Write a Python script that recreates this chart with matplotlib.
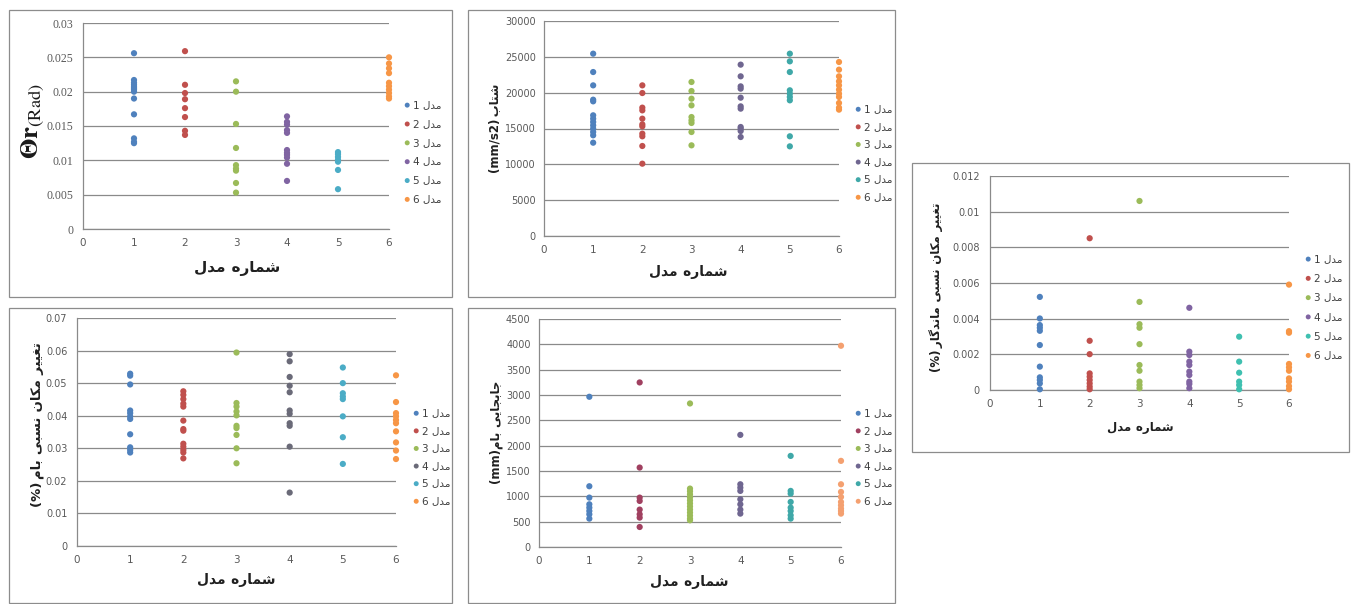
import re
import matplotlib
matplotlib.use("Agg")
import matplotlib.pyplot as plt
from matplotlib.patches import Rectangle

# ---------------- data ----------------
models = [1, 2, 3, 4, 5, 6]
series_names = ["مدل 1", "مدل 2", "مدل 3", "مدل 4", "مدل 5", "مدل 6"]

theta_r = [
    [0.0256, 0.0217, 0.0213, 0.0210, 0.0207, 0.0205, 0.0203, 0.0200, 0.0190, 0.0167, 0.0132, 0.0127, 0.0125],
    [0.0259, 0.0210, 0.0198, 0.0189, 0.0176, 0.0163, 0.0143, 0.0137],
    [0.0215, 0.0200, 0.0153, 0.0118, 0.0093, 0.0088, 0.0085, 0.0067, 0.0053],
    [0.0164, 0.0156, 0.0152, 0.0144, 0.0140, 0.0115, 0.0111, 0.0108, 0.0104, 0.0095, 0.0070],
    [0.0112, 0.0109, 0.0105, 0.0101, 0.0098, 0.0086, 0.0058],
    [0.0250, 0.0241, 0.0234, 0.0227, 0.0213, 0.0208, 0.0203, 0.0198, 0.0193, 0.0190],
]
accel = [
    [25440, 22880, 21020, 19020, 18790, 16840, 16370, 15910, 15440, 14980, 14510, 14050, 13020],
    [21020, 19950, 17910, 17530, 16370, 15580, 15300, 14280, 13910, 12560, 10090],
    [21490, 20230, 19160, 18230, 16600, 16140, 15770, 14510, 12650],
    [23910, 22280, 20880, 20560, 19300, 18090, 17770, 15210, 14980, 14650, 13810],
    [25440, 24370, 22880, 20330, 19860, 19400, 18930, 13910, 12510],
    [24280, 23210, 22280, 21580, 21020, 20420, 19860, 19400, 18560, 17910, 17630],
]
residual_drift = [
    [0.00522, 0.00401, 0.00364, 0.00349, 0.00332, 0.00252, 0.00131, 0.00071, 0.00056, 0.00037, 0.00004],
    [0.00851, 0.00276, 0.00201, 0.00093, 0.00075, 0.00056, 0.00037, 0.00019, 0.00004],
    [0.01060, 0.00494, 0.00369, 0.00349, 0.00257, 0.00140, 0.00108, 0.00047, 0.00028, 0.00010],
    [0.00461, 0.00215, 0.00196, 0.00159, 0.00140, 0.00103, 0.00084, 0.00047, 0.00034, 0.00010],
    [0.00299, 0.00159, 0.00097, 0.00047, 0.00028, 0.00004],
    [0.00591, 0.00330, 0.00321, 0.00146, 0.00127, 0.00108, 0.00065, 0.00047, 0.00022, 0.00004],
]
roof_drift = [
    [0.0529, 0.0523, 0.0496, 0.0416, 0.0408, 0.0398, 0.0390, 0.0343, 0.0303, 0.0295, 0.0287],
    [0.0475, 0.0464, 0.0451, 0.0437, 0.0428, 0.0385, 0.0359, 0.0354, 0.0314, 0.0305, 0.0295, 0.0287, 0.0269],
    [0.0594, 0.0439, 0.0428, 0.0413, 0.0401, 0.0369, 0.0362, 0.0341, 0.0300, 0.0254],
    [0.0589, 0.0567, 0.0519, 0.0492, 0.0472, 0.0416, 0.0406, 0.0377, 0.0369, 0.0305, 0.0164],
    [0.0548, 0.0500, 0.0469, 0.0459, 0.0451, 0.0398, 0.0334, 0.0252],
    [0.0524, 0.0442, 0.0408, 0.0398, 0.0387, 0.0377, 0.0352, 0.0318, 0.0293, 0.0267],
]
roof_disp = [
    [2965, 1199, 975, 843, 777, 711, 646, 560],
    [3248, 1568, 975, 909, 738, 646, 580, 395],
    [2833, 1153, 1100, 1040, 980, 920, 860, 800, 740, 680, 620, 560, 527],
    [2213, 1238, 1172, 1107, 942, 843, 738, 659],
    [1798, 1107, 1054, 889, 777, 711, 626, 560],
    [3972, 1700, 1238, 1087, 988, 889, 823, 758, 711, 659],
]

theta_ticks = ["0", "0.005", "0.01", "0.015", "0.02", "0.025", "0.03"]
accel_ticks = ["0", "5000", "10000", "15000", "20000", "25000", "30000"]
resid_ticks = ["0", "0.002", "0.004", "0.006", "0.008", "0.01", "0.012"]
roof_ticks = ["0", "0.01", "0.02", "0.03", "0.04", "0.05", "0.06", "0.07"]
disp_ticks = ["0", "500", "1000", "1500", "2000", "2500", "3000", "3500", "4000", "4500"]
x_ticks = ["0", "1", "2", "3", "4", "5", "6"]

xlabel_txt = "شماره مدل"
accel_label = "شتاب (mm/s2)"
resid_label = "تغییر مکان نسبی ماندگار (%)"
roof_label = "تغییر مکان نسبی بام (%)"
disp_label = "جابجایی بام(mm)"

# ---------------- Persian shaping (presentation forms + visual order) ----------------
FORMS = {
    "\u0627": ("\uFE8D", "\uFE8E", None, None),
    "\u0628": ("\uFE8F", "\uFE90", "\uFE91", "\uFE92"),
    "\u062A": ("\uFE95", "\uFE96", "\uFE97", "\uFE98"),
    "\u062C": ("\uFE9D", "\uFE9E", "\uFE9F", "\uFEA0"),
    "\u062F": ("\uFEA9", "\uFEAA", None, None),
    "\u0631": ("\uFEAD", "\uFEAE", None, None),
    "\u0633": ("\uFEB1", "\uFEB2", "\uFEB3", "\uFEB4"),
    "\u0634": ("\uFEB5", "\uFEB6", "\uFEB7", "\uFEB8"),
    "\u063A": ("\uFECD", "\uFECE", "\uFECF", "\uFED0"),
    "\u0644": ("\uFEDD", "\uFEDE", "\uFEDF", "\uFEE0"),
    "\u0645": ("\uFEE1", "\uFEE2", "\uFEE3", "\uFEE4"),
    "\u0646": ("\uFEE5", "\uFEE6", "\uFEE7", "\uFEE8"),
    "\u0647": ("\uFEE9", "\uFEEA", "\uFEEB", "\uFEEC"),
    "\u06CC": ("\uFBFC", "\uFBFD", "\uFBFE", "\uFBFF"),
    "\u06A9": ("\uFB8E", "\uFB8F", "\uFB90", "\uFB91"),
    "\u06AF": ("\uFB92", "\uFB93", "\uFB94", "\uFB95"),
}
THIN = "\u2009"


def shape_word(w):
    out = []
    for i, c in enumerate(w):
        if c not in FORMS:
            out.append(c)
            continue
        prev = w[i - 1] if i > 0 else None
        nxt = w[i + 1] if i + 1 < len(w) else None
        jp = prev in FORMS and FORMS[prev][2] is not None
        jn = nxt in FORMS and FORMS[c][2] is not None
        iso, fin, ini, med = FORMS[c]
        if jp and jn:
            out.append(med)
        elif jp:
            out.append(fin)
        elif jn:
            out.append(ini)
        else:
            out.append(iso)
    return "".join(out)[::-1]


def rtl(text, thin=True):
    runs = [r for r in re.split(r"([\u0600-\u06FF]+)", text) if r]
    vis = []
    for r in reversed(runs):
        if re.match(r"[\u0600-\u06FF]", r):
            vis.append(shape_word(r))
        else:
            core = r.strip()
            lead = r[: len(r) - len(r.lstrip())]
            trail = r[len(r.rstrip()):]
            if thin:
                lead = lead.replace(" ", THIN)
                trail = trail.replace(" ", THIN)
            vis.append(trail + core + lead)
    return "".join(vis)


# ---------------- figure ----------------
plt.rcParams["font.family"] = ["DejaVu Sans"]
plt.rcParams["mathtext.fontset"] = "stix"

W, H = 1352, 604
fig = plt.figure(figsize=(W / 100, H / 100), dpi=100)
fig.patch.set_facecolor("white")


def fx(px):
    return px / W


def fy(py):
    return 1 - py / H


base_colors = ["#4F81BD", "#C0504D", "#9BBB59", "#8064A2", "#4BACC6", "#F79646"]
GRID = "#8a8a8a"
TXT = "#595959"

# panel boxes (x0, y0, x1, y1) in pixels
boxes = [(9, 10, 452, 297), (468, 10, 895, 297), (912, 163, 1349, 452),
         (9, 308, 452, 603), (468, 308, 895, 603)]
for (x0, y0, x1, y1) in boxes:
    fig.patches.append(Rectangle((fx(x0), fy(y1)), fx(x1) - fx(x0), fy(y0) - fy(y1),
                                 transform=fig.transFigure, fill=False,
                                 edgecolor="#8c8c8c", linewidth=0.9))


def make_panel(rect, data, ticks, tick_step, leg, xl, colors, tickfont="DejaVu Sans",
               tfs=7.0, ypad=6.5):
    left, top, right, bottom = rect
    ax = fig.add_axes([fx(left), fy(bottom), fx(right) - fx(left), fy(top) - fy(bottom)])
    ymax = tick_step * (len(ticks) - 1)
    for i, vals in enumerate(data):
        ax.scatter([models[i]] * len(vals), vals, s=20, color=colors[i],
                   edgecolors="none", label=rtl(series_names[i], thin=False),
                   zorder=3, clip_on=False)
    ax.set_xlim(0, 6)
    ax.set_ylim(0, ymax)
    ax.set_xticks(range(7))
    ax.set_xticklabels(x_ticks, fontsize=7.5, color=TXT)
    ax.set_yticks([tick_step * k for k in range(len(ticks))])
    ax.set_yticklabels(ticks, fontsize=tfs, color=TXT, family=tickfont)
    ax.tick_params(length=0, pad=6.5)
    ax.tick_params(axis="y", pad=ypad)
    for s in ["top", "right"]:
        ax.spines[s].set_visible(False)
    for s in ["left", "bottom"]:
        ax.spines[s].set_color(GRID)
        ax.spines[s].set_linewidth(0.9)
    ax.yaxis.grid(True, color=GRID, linewidth=0.9)
    ax.set_axisbelow(True)
    ax.set_facecolor("none")
    lx, ly, lsp = leg
    lg = ax.legend(loc="center left", bbox_to_anchor=(fx(lx), fy(ly)),
                   bbox_transform=fig.transFigure, frameon=False, fontsize=7.5,
                   handletextpad=0.1, labelspacing=lsp, borderpad=0,
                   handlelength=1.0, markerscale=0.8, borderaxespad=0)
    for t in lg.get_texts():
        t.set_color("#404040")
    xcx, xcy, xfs = xl
    fig.text(fx(xcx), fy(xcy), rtl(xlabel_txt), ha="center", va="center",
             fontsize=xfs, fontweight="bold", color="#202020")
    return ax


make_panel((83, 23, 389, 229), theta_r, theta_ticks, 0.005, (402, 152, 0.85), (237, 268, 11),
           base_colors, tickfont="Liberation Serif", tfs=8.5, ypad=7)
fig.text(fx(33), fy(121), r"$\mathbf{\Theta r}_{\mathrm{(Rad)}}$", rotation=90,
         ha="center", va="center", fontsize=19, color="#1a1a1a")

make_panel((544, 21, 839, 236), accel, accel_ticks, 5000, (853, 153, 0.73), (688, 272, 10),
           ["#4F81BD", "#C0504D", "#9BBB59", "#6F6690", "#3FA8A8", "#F79646"], ypad=6)
fig.text(fx(495), fy(128), rtl(accel_label), rotation=90, ha="center", va="center",
         fontsize=8.5, fontweight="bold", color="#202020")

make_panel((990, 176, 1289, 390), residual_drift, resid_ticks, 0.002, (1303, 307, 0.89),
           (1140, 427, 8.5), ["#4F81BD", "#C0504D", "#9BBB59", "#8064A2", "#3FC0B0", "#F79646"],
           ypad=7.5)
fig.text(fx(936), fy(287), rtl(resid_label), rotation=90, ha="center", va="center",
         fontsize=8.5, fontweight="bold", color="#202020")

make_panel((77, 318, 396, 546), roof_drift, roof_ticks, 0.01, (411, 457, 0.73), (236, 580, 10),
           ["#4F81BD", "#C0504D", "#9BBB59", "#6A6A78", "#4BACC6", "#F79646"], ypad=7)
fig.text(fx(37), fy(425), rtl(roof_label), rotation=90, ha="center", va="center",
         fontsize=9.5, fontweight="bold", color="#202020")

make_panel((539, 319, 841, 547), roof_disp, disp_ticks, 500, (853, 457, 0.73), (689, 582, 10),
           ["#4F81BD", "#A04060", "#9BBB59", "#6F6690", "#3FA8A8", "#F4A070"], ypad=6)
fig.text(fx(496), fy(432), rtl(disp_label), rotation=90, ha="center", va="center",
         fontsize=8.5, fontweight="bold", color="#202020")

fig.savefig("out.png", dpi=100)
